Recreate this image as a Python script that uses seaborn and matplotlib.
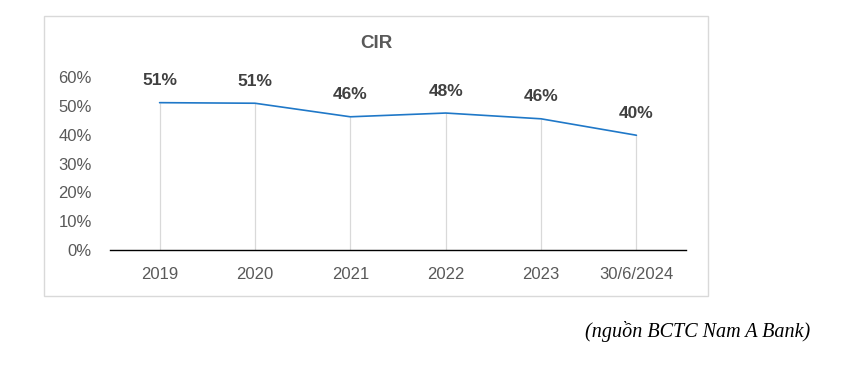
import matplotlib
matplotlib.use("Agg")
import matplotlib.pyplot as plt
import seaborn as sns
import pandas as pd
import numpy as np
from matplotlib.patches import Rectangle
from matplotlib.ticker import PercentFormatter

categories = ["2019", "2020", "2021", "2022", "2023", "30/6/2024"]
cir = [0.511, 0.509, 0.462, 0.475, 0.455, 0.398]
labels = ["51%", "51%", "46%", "48%", "46%", "40%"]
yticks = [0, 0.1, 0.2, 0.3, 0.4, 0.5, 0.6]

sns.set_style("white")
plt.rcParams['font.family'] = ['Liberation Sans', 'DejaVu Sans']

df = pd.DataFrame({"pos": np.arange(len(categories)), "cir": cir})

fig = plt.figure(figsize=(8.49, 3.69), dpi=100)
fig.patch.set_facecolor("white")
fig.add_artist(Rectangle((44/849, (369-296)/369), 664/849, 280/369,
                         transform=fig.transFigure, fill=False,
                         edgecolor="#D9D9D9", linewidth=1))

ax = fig.add_axes([110/849, 119/369, 576/849, 173/369])
ax.vlines(df["pos"], 0, df["cir"], color="#D9D9D9", linewidth=0.9, zorder=1)
sns.lineplot(data=df, x="pos", y="cir", ax=ax, color="#1F78C8", linewidth=1.2, zorder=3)

for x, y, t in zip(df["pos"], df["cir"], labels):
    ax.text(x, y + 0.076, t, ha="center", va="center", fontsize=12.5,
            fontweight="bold", color="#404040")

ax.set_xlim(-0.52, 5.52)
ax.set_ylim(0, 0.6)
ax.set_yticks(yticks)
ax.yaxis.set_major_formatter(PercentFormatter(1.0, decimals=0))
ax.set_xticks(df["pos"])
ax.set_xticklabels(categories)
ax.tick_params(axis="both", length=0, labelsize=12, labelcolor="#595959")
ax.tick_params(axis="x", pad=12)
ax.tick_params(axis="y", pad=13)
ax.set_xlabel("")
ax.set_ylabel("")
for s in ["top", "right", "left"]:
    ax.spines[s].set_visible(False)
ax.spines["bottom"].set_color("black")
ax.spines["bottom"].set_linewidth(1.0)
ax.patch.set_alpha(0)

fig.text(376/849, 1 - 43/369, "CIR", ha="center", va="center", fontsize=13.5,
         fontweight="bold", color="#595959")
fig.text(810/849, 1 - 332/369, "(nguồn BCTC Nam A Bank)", ha="right", va="center",
         fontsize=14.5, style="italic", family=["Liberation Serif", "DejaVu Serif"],
         color="black")

fig.savefig("out.png", dpi=100)
